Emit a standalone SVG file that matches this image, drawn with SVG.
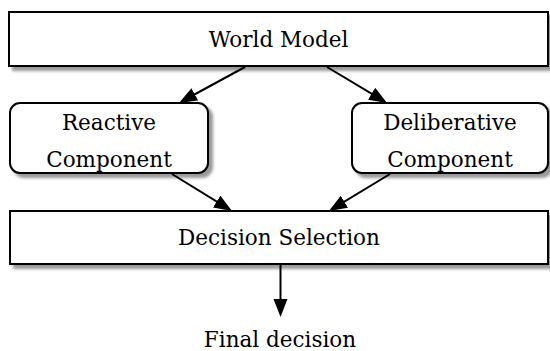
<svg xmlns="http://www.w3.org/2000/svg" width="550" height="351" viewBox="0 0 550 351">
<style>
.box{fill:#fff;stroke:#000;stroke-width:2;filter:url(#sh)}
.lbl{font-family:"DejaVu Serif","Liberation Serif",serif;font-size:21.5px;fill:#000;text-anchor:middle}
.edge{stroke:#000;stroke-width:2;fill:none;marker-end:url(#ah)}
</style>
<defs>
<filter id="sh" x="-5%" y="-20%" width="115%" height="150%">
<feDropShadow dx="4" dy="4" stdDeviation="1.5" flood-color="#000" flood-opacity="0.4"/>
</filter>
<marker id="ah" markerUnits="userSpaceOnUse" markerWidth="20" markerHeight="16" refX="14" refY="7" orient="auto">
<path d="M0,0 L18,7 L0,14 z" fill="#000"/>
</marker>
</defs>
<g id="world-model">
<rect class="box" x="9" y="12" width="539" height="54"/>
<text class="lbl" x="278.5" y="47">World Model</text>
</g>
<g id="reactive">
<rect class="box" x="10" y="103" width="198" height="70" rx="10"/>
<text class="lbl" x="109" y="130">Reactive</text>
<text class="lbl" x="109" y="167">Component</text>
</g>
<g id="deliberative">
<rect class="box" x="352" y="103" width="196" height="70" rx="10"/>
<text class="lbl" x="450" y="130">Deliberative</text>
<text class="lbl" x="450" y="167">Component</text>
</g>
<g id="decision">
<rect class="box" x="10" y="211" width="538" height="53"/>
<text class="lbl" x="279" y="245">Decision Selection</text>
</g>
<g id="final">
<text class="lbl" x="280" y="347">Final decision</text>
</g>
<g id="connectors">
<line class="edge" x1="245" y1="67" x2="182.5" y2="101"/>
<line class="edge" x1="327" y1="67" x2="383.6" y2="100.9"/>
<line class="edge" x1="172" y1="174" x2="228.6" y2="208.9"/>
<line class="edge" x1="390" y1="174" x2="332.4" y2="208.9"/>
<line class="edge" x1="280.5" y1="265" x2="280.5" y2="313"/>
</g>
</svg>
